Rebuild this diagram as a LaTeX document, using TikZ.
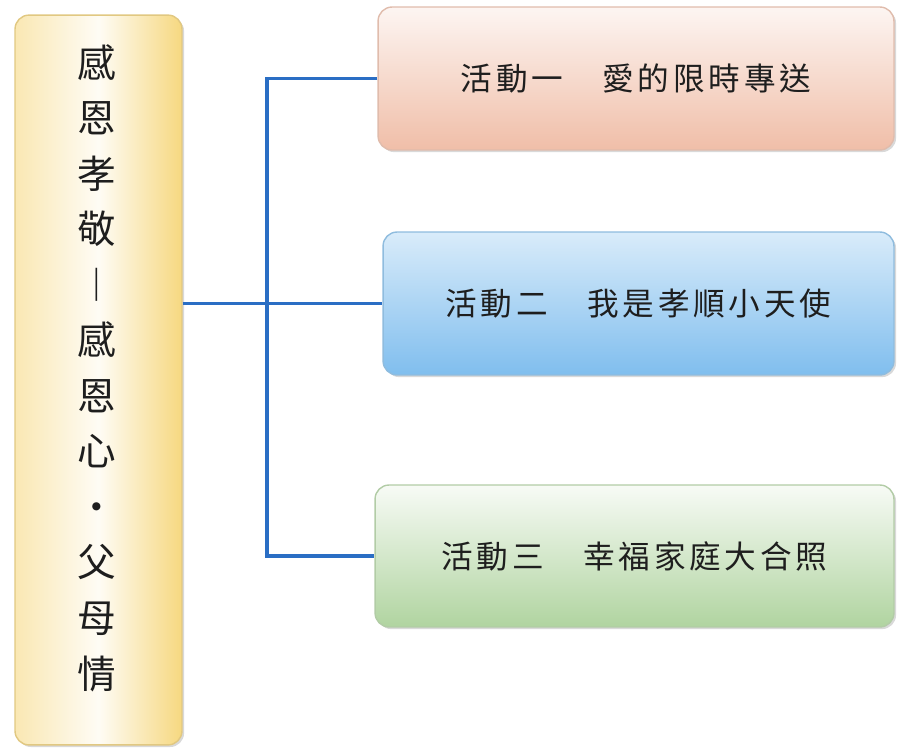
\documentclass[tikz,border=0pt]{standalone}
\usepackage{fontspec}
\newfontfamily\cjk[LetterSpace=12]{Noto Sans CJK TC}
\newfontfamily\cjktall{Noto Sans CJK TC}
\usetikzlibrary{shadows}
\definecolor{lineblue}{RGB}{42,110,196}
\definecolor{sand}{RGB}{246,216,128}
\definecolor{peach}{RGB}{240,190,168}
\definecolor{sky}{RGB}{128,190,238}
\definecolor{leaf}{RGB}{176,212,160}
\definecolor{ink}{RGB}{30,30,30}
\begin{document}
\begin{tikzpicture}[x=0.02cm, y=-0.02cm,
  box/.style = {rectangle, rounded corners=8pt, line width=0.8pt,
    drop shadow={shadow xshift=1.2pt, shadow yshift=-1.2pt, opacity=0.3},
    text=ink, font=\cjk\fontsize{18pt}{20pt}\selectfont},
  link/.style = {lineblue, line width=2pt}]
\useasboundingbox (0,0) rectangle (897,751);

\node[box, draw=sand!90!black!90, left color=sand!60, right color=sand, middle color=white!92!sand,
  minimum width=3.34cm, minimum height=14.6cm] (title) at (98.5,380) {};
\node[align=center, text=ink, font=\cjktall\fontsize{22pt}{31.6pt}\selectfont] (titletext) at (97,368)
  {感\\恩\\孝\\敬\\︱\\感\\恩\\心\\・\\父\\母\\情};

\node[box, draw=peach!90!black!80, top color=white!85!peach, bottom color=peach,
  minimum width=10.32cm, minimum height=2.86cm] (act1) at (636,78.5) {活動一　愛的限時專送};
\node[box, draw=sky!90!black!80, top color=white!70!sky, bottom color=sky,
  minimum width=10.22cm, minimum height=2.86cm] (act2) at (638.5,303.5) {活動二　我是孝順小天使};
\node[box, draw=leaf!90!black!80, top color=white!90!leaf, bottom color=leaf,
  minimum width=10.38cm, minimum height=2.84cm] (act3) at (634.5,556) {活動三　幸福家庭大合照};

\coordinate (spine) at (267,0);
\draw[link] (act1.west) -| (spine |- act3.west) -- (act3.west);
\draw[link] (title.east |- act2.west) -- (act2.west);
\end{tikzpicture}
\end{document}
